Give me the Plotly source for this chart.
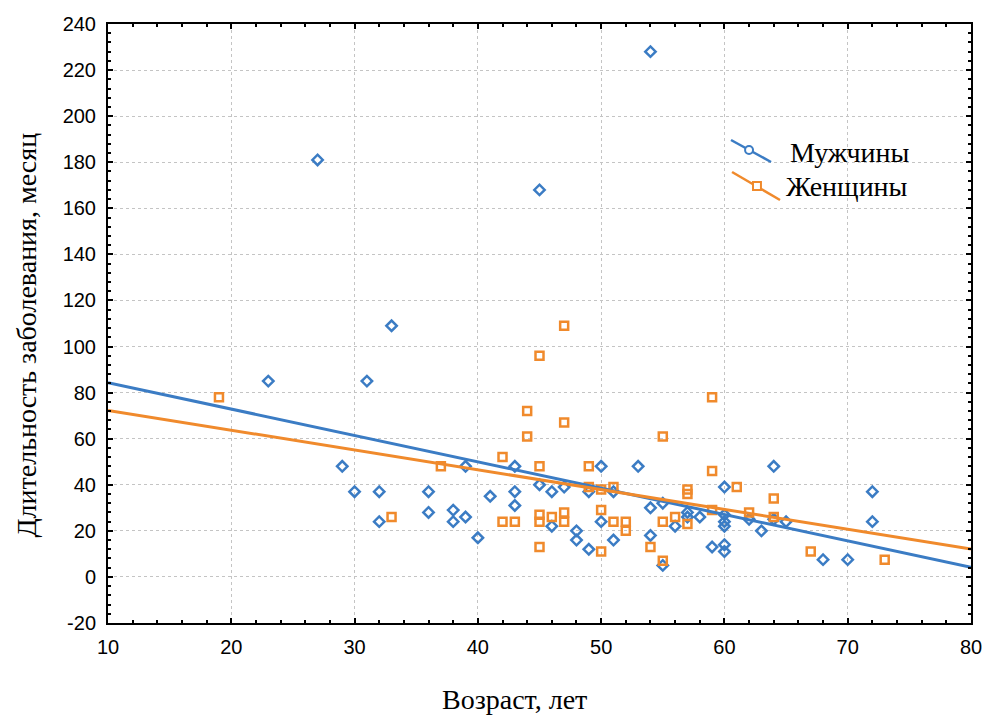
import plotly.graph_objects as go

# ---- data ----
men_age = [23, 27, 29, 30, 31, 32, 32, 33, 36, 36, 38, 38, 39, 39, 40, 41, 43, 43, 43,
           45, 45, 46, 46, 47, 48, 48, 49, 49, 50, 50, 51, 51, 53, 54, 54, 54, 55, 55,
           56, 57, 57, 58, 59, 60, 60, 60, 60, 60, 60, 62, 63, 64, 64, 65, 68, 70, 72, 72]
men_dur = [85, 181, 48, 37, 85, 37, 24, 109, 37, 28, 29, 24, 26, 48, 17, 35, 48, 37, 31,
           168, 40, 37, 22, 39, 20, 16, 12, 37, 48, 24, 37, 16, 48, 228, 30, 18, 32, 5,
           22, 28, 26, 26, 13, 39, 27, 24, 22, 14, 11, 25, 20, 48, 25, 24, 7.5, 7.5, 37, 24]

women_age = [19, 33, 37, 42, 42, 43, 44, 44, 45, 45, 45, 45, 45, 46, 47, 47, 47, 47,
             49, 49, 50, 50, 50, 51, 51, 52, 52, 54, 55, 55, 55, 56, 57, 57, 57, 59, 59,
             59, 61, 62, 64, 64, 67, 73]
women_dur = [78, 26, 48, 52, 24, 24, 72, 61, 96, 48, 27, 24, 13, 26, 109, 67, 28, 24,
             48, 39, 38, 29, 11, 39, 24, 24, 20, 13, 61, 24, 7, 26, 38, 36, 23, 78, 46,
             29, 39, 28, 34, 26, 11, 7.5]

# regression lines (end points)
fit_age = [10, 80]
men_fit = [84.3, 4.2]
women_fit = [72.3, 12.1]

x_tickvals = [10, 20, 30, 40, 50, 60, 70, 80]
x_ticktext = ["10", "20", "30", "40", "50", "60", "70", "80"]
y_tickvals = [-20, 0, 20, 40, 60, 80, 100, 120, 140, 160, 180, 200, 220, 240]
y_ticktext = ["-20", "0", "20", "40", "60", "80", "100", "120", "140", "160", "180",
              "200", "220", "240"]

series_names = ["Мужчины", "Женщины"]
x_title = "Возраст, лет"
y_title = "Длительность заболевания, месяц"

BLUE = "#3b7cc4"
ORANGE = "#f08a2c"

fig = go.Figure()
fig.add_trace(go.Scatter(x=men_age, y=men_dur, mode="markers", name=series_names[0],
                         marker=dict(symbol="diamond-open", size=8, color=BLUE,
                                     line=dict(width=2.5, color=BLUE)),
                         showlegend=False))
fig.add_trace(go.Scatter(x=women_age, y=women_dur, mode="markers", name=series_names[1],
                         marker=dict(symbol="square-open", size=8, color=ORANGE,
                                     line=dict(width=2.5, color=ORANGE)),
                         showlegend=False))
fig.add_trace(go.Scatter(x=fit_age, y=men_fit, mode="lines", name=series_names[0],
                         line=dict(color=BLUE, width=3), showlegend=False))
fig.add_trace(go.Scatter(x=fit_age, y=women_fit, mode="lines", name=series_names[1],
                         line=dict(color=ORANGE, width=3), showlegend=False))

tick_font = dict(family="Liberation Sans, Arial, sans-serif", size=20, color="black")
serif = "Liberation Serif, Times New Roman, serif"

axis_common = dict(
    showline=True, linewidth=2, linecolor="black", mirror="ticks",
    ticks="inside", ticklen=5, tickwidth=2, tickcolor="black",
    showgrid=True, gridcolor="#c4c4c4", griddash="dot", gridwidth=1,
    zeroline=False, tickfont=tick_font, tickmode="array", automargin=False,
    ticklabeloverflow="allow",
)

fig.update_xaxes(range=[10, 80], tickvals=x_tickvals, ticktext=x_ticktext,
                 minor=dict(dtick=2, tick0=10, ticks="inside", ticklen=3, tickwidth=1.5,
                            tickcolor="black", showgrid=False),
                 ticklabelstandoff=5, **axis_common)
fig.update_yaxes(range=[-20, 240], tickvals=y_tickvals, ticktext=y_ticktext,
                 minor=dict(dtick=4, tick0=0, ticks="inside", ticklen=3, tickwidth=1.5,
                            tickcolor="black", showgrid=False),
                 ticklabelstandoff=6, **axis_common)

# legend drawn inside the plot (sloped symbols as in the reference)
shapes = [
    dict(type="line", xref="paper", yref="paper", x0=0.7219, y0=0.8063, x1=0.7683, y1=0.7696,
         line=dict(color=BLUE, width=2.5)),
    dict(type="circle", xref="paper", yref="paper", x0=0.7428 - 0.0046, x1=0.7428 + 0.0046,
         y0=0.7896 - 0.0067, y1=0.7896 + 0.0067, fillcolor="white",
         line=dict(color=BLUE, width=2)),
    dict(type="line", xref="paper", yref="paper", x0=0.7231, y0=0.7529, x1=0.7787, y1=0.7062,
         line=dict(color=ORANGE, width=2.5)),
    dict(type="rect", xref="paper", yref="paper", x0=0.7520 - 0.0046, x1=0.7520 + 0.0046,
         y0=0.7295 - 0.0067, y1=0.7295 + 0.0067, fillcolor="white",
         line=dict(color=ORANGE, width=2)),
]

annotations = [
    dict(text=series_names[0], xref="paper", yref="paper", x=0.7880, y=0.7863,
         xanchor="left", yanchor="middle", showarrow=False,
         font=dict(family=serif, size=28, color="black")),
    dict(text=series_names[1], xref="paper", yref="paper", x=0.7833, y=0.7279,
         xanchor="left", yanchor="middle", showarrow=False,
         font=dict(family=serif, size=28, color="black")),
    dict(text=x_title, xref="paper", yref="paper", x=0.4716, y=-0.128,
         xanchor="center", yanchor="middle", showarrow=False,
         font=dict(family=serif, size=28, color="black")),
    dict(text=y_title, xref="paper", yref="paper", x=-0.0950, y=0.48,
         xanchor="center", yanchor="middle", showarrow=False, textangle=-90,
         font=dict(family=serif, size=28, color="black")),
]

fig.update_layout(
    width=982, height=715,
    margin=dict(l=108, r=11, t=24, b=92),
    paper_bgcolor="white", plot_bgcolor="white",
    shapes=shapes, annotations=annotations,
    showlegend=False,
)

fig.write_html(
    "out.html",
    config={"displayModeBar": False},
    post_script="document.body.style.margin='0';document.body.style.overflow='hidden';",
)
